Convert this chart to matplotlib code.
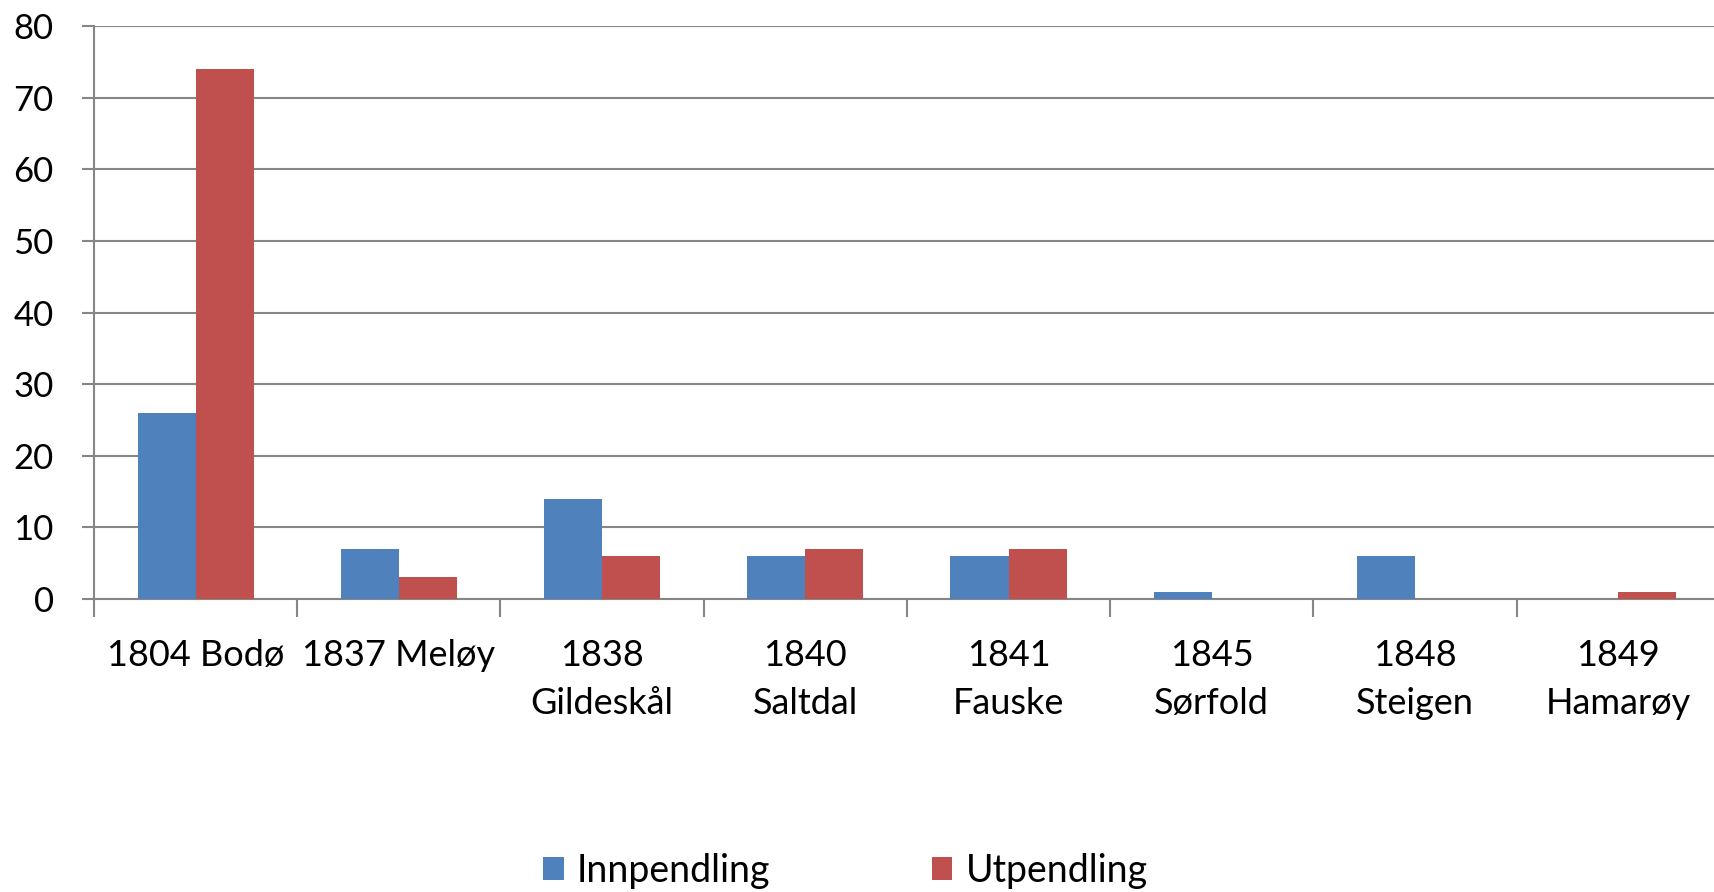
import numpy as np
import matplotlib
matplotlib.use("Agg")
import matplotlib.pyplot as plt

plt.rcParams['font.family'] = ['Lato', 'DejaVu Sans']

categories = ["1804 Bodø", "1837 Meløy", "1838\nGildeskål", "1840\nSaltdal",
              "1841\nFauske", "1845\nSørfold", "1848\nSteigen", "1849\nHamarøy"]
innpendling = [26, 7, 14, 6, 6, 1, 6, 0]
utpendling = [74, 3, 6, 7, 7, 0, 0, 1]

blue = '#4F81BD'
red = '#C0504D'
grid_col = '#868686'

fig = plt.figure(figsize=(17.15, 8.92), dpi=100)
ax = fig.add_axes([0.0548, 0.3285, 0.948, 0.6423])

x = np.arange(len(categories))
w = 1 / 3.5
ax.bar(x - w / 2, innpendling, w, color=blue, label="Innpendling", zorder=3)
ax.bar(x + w / 2, utpendling, w, color=red, label="Utpendling", zorder=3)

ax.set_xlim(-0.5, len(categories) - 0.5)
ax.set_ylim(0, 80)
ax.set_yticks(np.arange(0, 81, 10))
ax.yaxis.grid(True, color=grid_col, linewidth=1.5, zorder=0)

# category separators as tick marks
ax.set_xticks(np.arange(len(categories) + 1) - 0.5)
ax.set_xticklabels([])
ax.set_xticks(x, minor=True)
ax.set_xticklabels(categories, minor=True, fontsize=26, linespacing=1.55)
ax.tick_params(axis='x', which='major', length=13, width=1.5, color=grid_col)
ax.tick_params(axis='x', which='minor', length=0, pad=29)
ax.tick_params(axis='y', length=9, width=1.5, color=grid_col, labelsize=25, pad=20)

for s in ['top', 'right']:
    ax.spines[s].set_visible(False)
for s in ['left', 'bottom']:
    ax.spines[s].set_color(grid_col)
    ax.spines[s].set_linewidth(1.5)

fig.legend(loc='center', bbox_to_anchor=(0.493, 0.024), ncol=2, frameon=False,
           fontsize=27, handlelength=0.55, handleheight=0.55, handletextpad=0.35,
           columnspacing=4.3)

plt.savefig("out.png", dpi=100)
